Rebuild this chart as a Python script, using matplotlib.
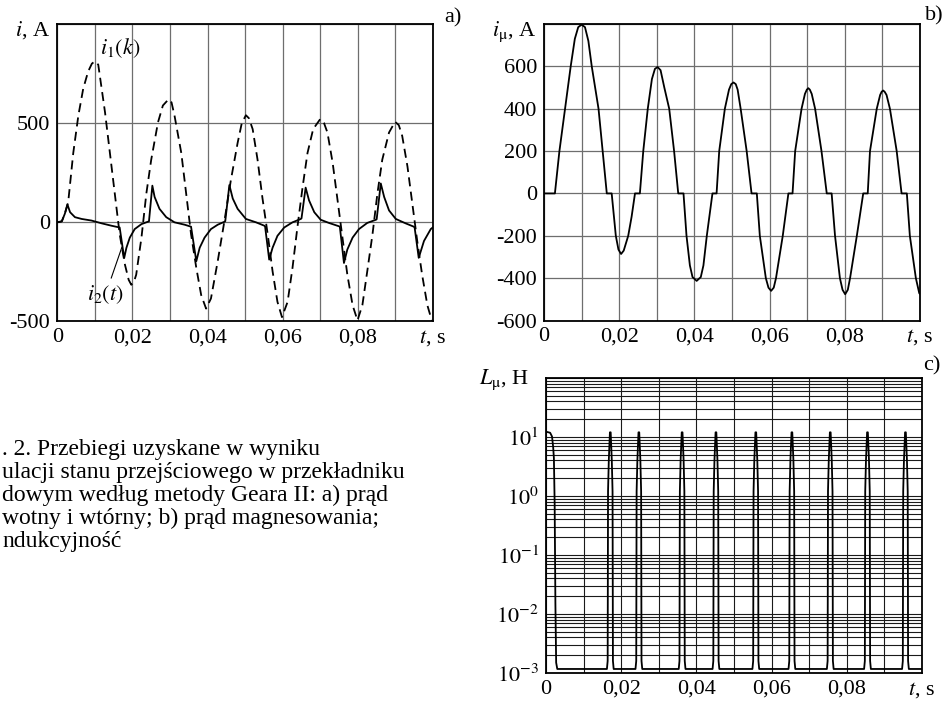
import matplotlib
matplotlib.use('Agg')
import matplotlib.pyplot as plt
from matplotlib.ticker import LogLocator, NullFormatter

plt.rcParams['font.family'] = ['Liberation Serif', 'DejaVu Serif']
plt.rcParams['mathtext.fontset'] = 'stix'
plt.rcParams['axes.unicode_minus'] = False

# a) primary current i1(k) (dashed) and secondary current i2(t) (solid)
t_i1 = [0, 0.0012, 0.0020, 0.0029, 0.00425, 0.0056, 0.0069, 0.0082, 0.0092, 0.0100, 0.0109,
        0.0127, 0.0140, 0.0153, 0.0166, 0.0180, 0.0190, 0.0197, 0.0204, 0.0210, 0.0224,
        0.0237, 0.0250, 0.0268, 0.0281, 0.0296, 0.0304, 0.0312, 0.0330, 0.0343, 0.0356,
        0.0370, 0.0383, 0.0396, 0.0409, 0.0427, 0.0445, 0.0462, 0.0480, 0.0491, 0.0502,
        0.0510, 0.0520, 0.0533, 0.0546, 0.0560, 0.0573, 0.0586, 0.0598, 0.0613, 0.0626,
        0.0639, 0.0653, 0.0666, 0.0681, 0.0700, 0.0710, 0.0719, 0.0733, 0.0746, 0.0759,
        0.0772, 0.0786, 0.0799, 0.0812, 0.0825, 0.0839, 0.0852, 0.0865, 0.0883, 0.0899,
        0.0909, 0.0918, 0.0932, 0.0945, 0.0958, 0.0971, 0.0985, 0.0998, 0.1]
i1 = [0, 5, 43, 102, 350, 538, 674, 760, 800, 812, 795,
      555, 350, 145, -60, -213, -290, -315, -300, -264, -77,
      145, 316, 504, 589, 620, 605, 538, 350, 145, -60,
      -230, -367, -435, -384, -196, 9, 213, 401, 500, 540,
      525, 470, 316, 123, -60, -247, -401, -478, -401, -230,
      -26, 179, 350, 470, 521, 500, 453, 299, 111, -77,
      -264, -418, -494, -418, -247, -60, 145, 316, 453, 507,
      490, 436, 282, 94, -94, -264, -418, -503, -505]

t_i2 = [0, 0.0012, 0.0020, 0.0027, 0.0034, 0.0047, 0.0065, 0.0091, 0.0118, 0.0144, 0.0166,
        0.0178, 0.0184, 0.0193, 0.0206, 0.0224, 0.0241, 0.0244, 0.0253, 0.0259, 0.0272,
        0.0290, 0.0312, 0.0339, 0.0356, 0.0370, 0.0379, 0.0392, 0.0409, 0.0427, 0.0445,
        0.0447, 0.0458, 0.0467, 0.0480, 0.0502, 0.0529, 0.0551, 0.0553, 0.0564, 0.0573,
        0.0586, 0.0604, 0.0626, 0.0648, 0.0650, 0.0661, 0.0670, 0.0684, 0.0701, 0.0723,
        0.0750, 0.0752, 0.0763, 0.0772, 0.0786, 0.0803, 0.0825, 0.0848, 0.0850, 0.0861,
        0.0870, 0.0883, 0.0901, 0.0927, 0.0949, 0.0951, 0.0962, 0.0976, 0.0994, 0.1]
i2 = [0, 5, 43, 90, 51, 26, 17, 9, -5, -17, -26,
      -180, -128, -77, -34, -9, 3, 5, 185, 128, 68,
      26, 0, -12, -22, -196, -128, -77, -34, -12, 3,
      5, 188, 120, 68, 17, 0, -17, -20, -188, -128,
      -68, -26, 0, 17, 20, 175, 111, 51, 13, -3,
      -20, -22, -205, -137, -77, -34, -3, 13, 15, 196,
      128, 60, 17, -5, -22, -25, -179, -94, -34, -25]

# b) magnetising current
t_imu = [0, 0.0029, 0.0041, 0.0056, 0.0071, 0.0082, 0.0091, 0.0100, 0.0109, 0.0118, 0.0127,
         0.0145, 0.0156, 0.0167, 0.0180, 0.0191, 0.0198, 0.0205, 0.0212, 0.0224, 0.0233,
         0.0242, 0.0255, 0.0264, 0.0276, 0.0287, 0.0295, 0.0302, 0.0310, 0.0320, 0.0333,
         0.0346, 0.0357, 0.0371, 0.0379, 0.0388, 0.0395, 0.0406, 0.0417, 0.0424, 0.0433,
         0.0448, 0.0459, 0.0466, 0.0481, 0.0492, 0.0498, 0.0504, 0.0510, 0.0515, 0.0523,
         0.0539, 0.0552, 0.0566, 0.0574, 0.0590, 0.0597, 0.0604, 0.0611, 0.0617, 0.0635,
         0.0650, 0.0661, 0.0668, 0.0685, 0.0694, 0.0699, 0.0703, 0.0707, 0.0712, 0.0721,
         0.0738, 0.0752, 0.0765, 0.0774, 0.0787, 0.0794, 0.0801, 0.0808, 0.0814, 0.0832,
         0.0849, 0.0861, 0.0867, 0.0885, 0.0894, 0.0898, 0.0902, 0.0906, 0.0911, 0.0920,
         0.0938, 0.0951, 0.0965, 0.0973, 0.0989, 0.0998, 0.1]
imu = [0, 0, 200, 400, 600, 730, 785, 797, 785, 720, 600,
       400, 200, 0, 0, -200, -265, -286, -270, -200, -110,
       0, 0, 200, 400, 540, 588, 597, 582, 500, 400,
       200, 0, 0, -200, -340, -395, -413, -395, -340, -200,
       0, 0, 200, 400, 490, 516, 524, 516, 490, 400,
       200, 0, 0, -200, -400, -445, -460, -445, -400, -200,
       0, 0, 200, 400, 470, 490, 497, 490, 470, 400,
       200, 0, 0, -200, -400, -455, -476, -455, -400, -200,
       0, 0, 200, 400, 465, 480, 486, 480, 465, 400,
       200, 0, 0, -200, -400, -471, -475]

# c) magnetising inductance (log scale)
t_L = [0, 0.0011, 0.0016, 0.0019, 0.0021, 0.0023, 0.0025, 0.0027, 0.0030,
       0.0162, 0.0164, 0.0165, 0.0167, 0.0170, 0.0172, 0.0175, 0.0177, 0.0178, 0.0180,
       0.0238, 0.0240, 0.0241, 0.0243, 0.0246, 0.0248, 0.0251, 0.0253, 0.0254, 0.0256,
       0.0353, 0.0355, 0.0356, 0.0358, 0.0361, 0.0363, 0.0366, 0.0368, 0.0369, 0.0371,
       0.0443, 0.0445, 0.0446, 0.0448, 0.0451, 0.0453, 0.0456, 0.0458, 0.0459, 0.0461,
       0.0549, 0.0551, 0.0552, 0.0554, 0.0557, 0.0559, 0.0562, 0.0564, 0.0565, 0.0567,
       0.0645, 0.0647, 0.0648, 0.0650, 0.0653, 0.0655, 0.0658, 0.0660, 0.0661, 0.0663,
       0.0747, 0.0749, 0.0750, 0.0752, 0.0755, 0.0757, 0.0760, 0.0762, 0.0763, 0.0765,
       0.0846, 0.0848, 0.0849, 0.0851, 0.0854, 0.0856, 0.0859, 0.0861, 0.0862, 0.0864,
       0.0947, 0.0949, 0.0950, 0.0952, 0.0955, 0.0957, 0.0960, 0.0962, 0.0963, 0.0965,
       0.1]
L_mu = [12.3, 11.8, 10.2, 6.8, 4.4, 0.75, 0.015, 0.0015, 0.00117,
        0.00117, 0.0016, 1.2, 4.0, 12.0, 12.0, 4.0, 1.2, 0.0016, 0.00117,
        0.00117, 0.0016, 1.2, 4.0, 12.0, 12.0, 4.0, 1.2, 0.0016, 0.00117,
        0.00117, 0.0016, 1.2, 4.0, 12.0, 12.0, 4.0, 1.2, 0.0016, 0.00117,
        0.00117, 0.0016, 1.2, 4.0, 12.0, 12.0, 4.0, 1.2, 0.0016, 0.00117,
        0.00117, 0.0016, 1.2, 4.0, 12.0, 12.0, 4.0, 1.2, 0.0016, 0.00117,
        0.00117, 0.0016, 1.2, 4.0, 12.0, 12.0, 4.0, 1.2, 0.0016, 0.00117,
        0.00117, 0.0016, 1.2, 4.0, 12.0, 12.0, 4.0, 1.2, 0.0016, 0.00117,
        0.00117, 0.0016, 1.2, 4.0, 12.0, 12.0, 4.0, 1.2, 0.0016, 0.00117,
        0.00117, 0.0016, 1.2, 4.0, 12.0, 12.0, 4.0, 1.2, 0.0016, 0.00117,
        0.00117]

x_ticks = [0, 0.02, 0.04, 0.06, 0.08, 0.1]
x_labels = ['0', '0,02', '0,04', '0,06', '0,08', '$t$, s']
x_grid = [0.01 * k for k in range(1, 10)]

caption = ['. 2. Przebiegi uzyskane w wyniku',
           'ulacji stanu przejściowego w przekładniku',
           'dowym według metody Geara II: a) prąd',
           'wotny i wtórny; b) prąd magnesowania;',
           'ndukcyjność']

W, H = 943, 703
FS = 16
FS_CAP = 17


def box(left, top, right, bottom):
    return [left / W, 1 - bottom / H, (right - left) / W, (bottom - top) / H]


def style(ax, gcol):
    ax.set_xlim(0, 0.1)
    ax.set_xticks(x_ticks)
    ax.set_xticklabels(x_labels)
    ax.set_xticks(x_grid, minor=True)
    ax.tick_params(which='both', length=0, labelsize=FS)
    ax.tick_params(axis='x', pad=5)
    ax.tick_params(axis='y', pad=5)
    ax.grid(True, which='both', color=gcol, lw=0.9)
    ax.set_axisbelow(True)
    for s in ax.spines.values():
        s.set_linewidth(1.3)


fig = plt.figure(figsize=(W / 100, H / 100), dpi=100)

# panel a
ax_a = fig.add_axes(box(57.3, 24, 433, 321.5))
ax_a.plot(t_i1, i1, color='black', lw=1.3, ls=(0, (5, 3)))
ax_a.plot(t_i2, i2, color='black', lw=1.3)
ax_a.set_ylim(-500, 1000)
ax_a.set_yticks([-500, 0, 500, 1000])
ax_a.set_yticklabels(['-500', '0', '500', ''])
style(ax_a, '#6e6e6e')
ax_a.text(0.0113, 879, '$i_1(k)$', fontsize=FS, ha='left', va='center')
ax_a.annotate('$i_2(t)$', xy=(0.0172, -125), xytext=(0.0079, -366),
              fontsize=FS, ha='left', va='center',
              arrowprops=dict(arrowstyle='-', lw=0.8, color='black',
                              shrinkA=2, shrinkB=0))
fig.text(50 / W, 1 - 30 / H, '$i$, A', fontsize=FS, ha='right', va='center')
fig.text(453 / W, 1 - 18 / H, 'a)', fontsize=FS, ha='center', va='center')

# panel b
ax_b = fig.add_axes(box(544, 24, 920, 320.5))
ax_b.plot(t_imu, imu, color='black', lw=1.3)
ax_b.set_ylim(-600, 800)
ax_b.set_yticks([-600, -400, -200, 0, 200, 400, 600, 800])
ax_b.set_yticklabels(['-600', '-400', '-200', '0', '200', '400', '600', ''])
style(ax_b, '#6e6e6e')
fig.text(536 / W, 1 - 32 / H, r'$i_{\mathrm{μ}}$, A', fontsize=FS, ha='right', va='center')
fig.text(934 / W, 1 - 16 / H, 'b)', fontsize=FS, ha='center', va='center')

# panel c
ax_c = fig.add_axes(box(546, 378, 922, 673))
ax_c.plot(t_L, L_mu, color='black', lw=1.3)
ax_c.set_yscale('log')
ax_c.set_ylim(1e-3, 1e2)
ax_c.set_yticks([1e-3, 1e-2, 1e-1, 1e0, 1e1, 1e2])
ax_c.set_yticklabels(['$10^{-3}$', '$10^{-2}$', '$10^{-1}$', '$10^{0}$', '$10^{1}$', ''])
ax_c.yaxis.set_minor_locator(LogLocator(base=10, subs=range(2, 10)))
ax_c.yaxis.set_minor_formatter(NullFormatter())
style(ax_c, '#1a1a1a')
ax_c.grid(True, which='both', color='#1a1a1a', lw=0.8)
fig.text(529 / W, 1 - 380 / H, r'$L_{\mathrm{μ}}$, H', fontsize=FS, ha='right', va='center')
fig.text(932 / W, 1 - 366 / H, 'c)', fontsize=FS, ha='center', va='center')

# caption (cut at the left edge as in the source)
for k, line in enumerate(caption):
    fig.text(2 / W, 1 - (455 + 23 * k) / H, line, fontsize=FS_CAP, ha='left', va='baseline')

fig.savefig('out.png', dpi=100)
